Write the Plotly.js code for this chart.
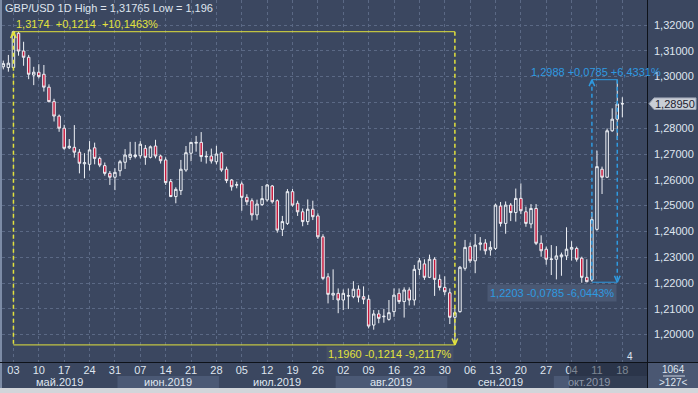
<!DOCTYPE html>
<html><head><meta charset="utf-8">
<script src="https://cdn.plot.ly/plotly-3.0.1.min.js"></script>
<style>html,body{margin:0;padding:0;background:#3b4760;overflow:hidden}#chart{width:698px;height:393px}</style>
</head><body><div id="chart"></div>
<script>
// ---- trading days (categories) ----
const mayDays=[1,2,3,6,7,8,9,10,13,14,15,16,17,20,21,22,23,24,27,28,29,30,31];
const junDays=[3,4,5,6,7,10,11,12,13,14,17,18,19,20,21,24,25,26,27,28];
const julDays=[1,2,3,4,5,8,9,10,11,12,15,16,17,18,19,22,23,24,25,26,29,30,31];
const augDays=[1,2,5,6,7,8,9,12,13,14,15,16,19,20,21,22,23,26,27,28,29,30];
const sepDays=[2,3,4,5,6,9,10,11,12,13,16,17,18,19,20,23,24,25,26,27,30];
const octDays=[1,2,3,4,7,8,9,10,11,14,15,16,17,18];
const monthKeys=['05','06','07','08','09','10'];
const monthLabels=['май.2019','июн.2019','июл.2019','авг.2019','сен.2019','окт.2019'];

// ---- OHLC values (GBP/USD daily) ----
const open=[
1.3038,1.3035,1.3035,1.3168,1.3099,1.3075,1.3006,1.3017,1.3009,1.2959,
1.2903,1.2847,1.2800,1.2724,1.2726,1.2707,1.2662,1.2660,1.2724,1.2683,
1.2655,1.2625,1.2610,1.2635,1.2668,1.2687,1.2690,1.2693,1.2722,1.2687,
1.2731,1.2692,1.2677,1.2593,1.2535,1.2558,1.2638,1.2703,1.2742,1.2745,
1.2689,1.2692,1.2670,1.2705,1.2641,1.2599,1.2579,1.2584,1.2532,1.2519,
1.2464,1.2504,1.2522,1.2576,1.2519,1.2408,1.2431,1.2554,1.2509,1.2476,
1.2438,1.2486,1.2460,1.2379,1.2224,1.2153,1.2160,1.2134,1.2149,1.2147,
1.2176,1.2147,1.2137,1.2037,1.2080,1.2069,1.2059,1.2089,1.2160,1.2128,
1.2173,1.2134,1.2253,1.2274,1.2222,1.2292,1.2214,1.2183,1.2162,1.2067,
1.2089,1.2257,1.2341,1.2286,1.2350,1.2355,1.2328,1.2334,1.2498,1.2431,
1.2502,1.2473,1.2528,1.2476,1.2429,1.2489,1.2354,1.2331,1.2291,1.2292,
1.2302,1.2305,1.2331,1.2334,1.2296,1.2222,1.2212,1.2408,1.2641,1.2610,
1.2790,1.2835,1.2894];
const high=[
1.3062,1.3084,1.31765,1.3174,1.3135,1.3084,1.3038,1.3048,1.3045,1.2970,
1.2914,1.2853,1.2813,1.2758,1.2812,1.2719,1.2703,1.2750,1.2744,1.2690,
1.2667,1.2634,1.2645,1.2677,1.2719,1.2747,1.2747,1.2750,1.2735,1.2733,
1.2755,1.2697,1.2687,1.2603,1.2571,1.2677,1.2731,1.2747,1.2770,1.2785,
1.2711,1.2721,1.2732,1.2709,1.2651,1.2603,1.2593,1.2593,1.2544,1.2528,
1.2523,1.2576,1.2584,1.2580,1.2524,1.2460,1.2564,1.2564,1.2519,1.2489,
1.2524,1.2519,1.2470,1.2389,1.2238,1.2253,1.2179,1.2175,1.2179,1.2207,
1.2191,1.2187,1.2153,1.2095,1.2095,1.2100,1.2134,1.2179,1.2179,1.2183,
1.2183,1.2270,1.2297,1.2292,1.2310,1.2300,1.2233,1.2226,1.2179,1.2105,
1.2266,1.2367,1.2357,1.2390,1.2378,1.2370,1.2362,1.2508,1.2514,1.2516,
1.2510,1.2566,1.2586,1.2496,1.2506,1.2506,1.2385,1.2341,1.2347,1.2343,
1.2318,1.2416,1.2362,1.2341,1.2302,1.2292,1.2476,1.2713,1.2651,1.2799,
1.2877,1.2988,1.2920];
const low=[
1.3028,1.3019,1.3030,1.3081,1.3042,1.2990,1.2967,1.2993,1.2942,1.2900,
1.2826,1.2786,1.2716,1.2719,1.2686,1.2625,1.2606,1.2636,1.2660,1.2649,
1.2616,1.2580,1.2560,1.2614,1.2642,1.2677,1.2683,1.2683,1.2658,1.2683,
1.2683,1.2663,1.2580,1.2533,1.2509,1.2541,1.2631,1.2672,1.2709,1.2670,
1.2663,1.2663,1.2660,1.2631,1.2587,1.2558,1.2567,1.2480,1.2501,1.2442,
1.2445,1.2499,1.2515,1.2508,1.2395,1.2382,1.2425,1.2496,1.2460,1.2420,
1.2425,1.2444,1.2371,1.2211,1.2121,1.2134,1.2083,1.2095,1.2099,1.2141,
1.2125,1.2118,1.2024,1.2019,1.2044,1.2046,1.2054,1.2069,1.2119,1.2066,
1.2113,1.2113,1.2230,1.2212,1.2219,1.2150,1.2171,1.2153,1.2041,1.1960,
1.2085,1.2248,1.2277,1.2238,1.2326,1.2310,1.2306,1.2328,1.2419,1.2391,
1.2440,1.2438,1.2467,1.2418,1.2412,1.2347,1.2302,1.2271,1.2231,1.2214,
1.2228,1.2289,1.2287,1.2283,1.2201,1.2203,1.2205,1.2403,1.2545,1.2607,
1.2786,1.2754,1.2842];
const close=[
1.3050,1.3052,1.3174,1.3099,1.3075,1.3009,1.3017,1.3000,1.2959,1.2903,
1.2847,1.2800,1.2722,1.2730,1.2707,1.2664,1.2666,1.2716,1.2683,1.2657,
1.2625,1.2610,1.2629,1.2670,1.2696,1.2699,1.2696,1.2738,1.2687,1.2728,
1.2692,1.2674,1.2589,1.2535,1.2563,1.2641,1.2705,1.2745,1.2745,1.2690,
1.2691,1.2673,1.2700,1.2638,1.2597,1.2573,1.2581,1.2532,1.2515,1.2464,
1.2506,1.2527,1.2580,1.2515,1.2405,1.2438,1.2554,1.2502,1.2476,1.2438,
1.2486,1.2457,1.2379,1.2218,1.2156,1.2160,1.2134,1.2160,1.2151,1.2176,
1.2145,1.2137,1.2033,1.2080,1.2063,1.2071,1.2085,1.2153,1.2128,1.2173,
1.2134,1.2253,1.2286,1.2222,1.2292,1.2214,1.2183,1.2166,1.2067,1.2085,
1.2261,1.2338,1.2286,1.2347,1.2355,1.2325,1.2338,1.2502,1.2431,1.2502,
1.2473,1.2528,1.2480,1.2431,1.2489,1.2354,1.2325,1.2292,1.2293,1.2305,
1.2309,1.2331,1.2338,1.2292,1.2222,1.2205,1.2446,1.2651,1.2610,1.2790,
1.2835,1.2894,1.2895];

// ---- ticks ----
const weekTicks=['2019-05-03','2019-05-10','2019-05-17','2019-05-24','2019-05-31','2019-06-07','2019-06-14','2019-06-21','2019-06-28','2019-07-05','2019-07-12','2019-07-19','2019-07-26','2019-08-02','2019-08-09','2019-08-16','2019-08-23','2019-08-30','2019-09-06','2019-09-13','2019-09-20','2019-09-27','2019-10-04','2019-10-11','2019-10-18'];
const weekLabels=['03','10','17','24','31','07','14','21','28','05','12','19','26','02','09','16','23','30','06','13','20','27','04','11','18'];
const yTicks=[1.20,1.21,1.22,1.23,1.24,1.25,1.26,1.27,1.28,1.29,1.30,1.31,1.32];
const yTickText=['1,20000','1,21000','1,22000','1,23000','1,24000','1,25000','1,26000','1,27000','1,28000','','1,30000','1,31000','1,32000'];

// ---- measurements / texts ----
const lastPrice=1.2895, lastPriceText='1,28950';
const header='GBP/USD 1D High = 1,31765 Low = 1,196';
const measA={from:'2019-05-03',to:'2019-09-03',top:1.3174,bottom:1.1960,
  topText:'1,3174\u00a0\u00a0+0,1214\u00a0\u00a0+10,1463%',botText:'1,1960 -0,1214 -9,2117%'};
const measB={from:'2019-10-10',to:'2019-10-17',top:1.2988,bottom:1.2203,
  topText:'1,2988 +0,0785 +6,4331%',botText:'1,2203 -0,0785 -6,0443%'};

// ---- build ----
const monthDays={'05':mayDays,'06':junDays,'07':julDays,'08':augDays,'09':sepDays,'10':octDays};
const dates=[];
monthKeys.forEach(m=>monthDays[m].forEach(d=>dates.push('2019-'+m+'-'+String(d).padStart(2,'0'))));
const idx=d=>dates.indexOf(d);

const BG='#3b4760', GRID='#5b6985', TXT='#dfe5ef', YEL='#e2e23c', BLUE='#2f9ae0';
const FONT='Liberation Sans Narrow, Liberation Sans, Arial, sans-serif';
const XR=[-0.256,126.86];
const PW=645, PH=362;
const px=v=>(v-2)/PW;          // page x -> paper x
const py=v=>(PH-v)/PH;         // page y -> paper y

const trace={type:'candlestick',x:dates,open:open,high:high,low:low,close:close,
  increasing:{line:{color:'#eef1f6',width:1},fillcolor:BG},
  decreasing:{line:{color:'#eef1f6',width:1},fillcolor:'#c8193c'},
  whiskerwidth:0,hoverinfo:'skip'};

const shapes=[];
const annotations=[];
// month bands
monthKeys.forEach((m,k)=>{
  const first=dates.findIndex(d=>d.slice(5,7)===m);
  const last=first+monthDays[m].length-1;
  if(k%2===1) shapes.push({type:'rect',xref:'x',yref:'paper',x0:first-0.5,x1:k===5?XR[1]:last+0.5,y0:py(376),y1:py(388),fillcolor:'#4b5975',line:{width:0},layer:'below'});
  annotations.push({xref:'x',yref:'paper',x:(first+last)/2,y:py(382),text:monthLabels[k],showarrow:false,
    font:{family:FONT,size:11,color:k===5?'#8d96a8':TXT},xanchor:'center',yanchor:'middle'});
});
// Oct dim overlay on axis
shapes.push({type:'rect',xref:'x',yref:'paper',x0:111.5,x1:XR[1],y0:py(388),y1:py(363),fillcolor:'rgba(28,35,52,0.5)',line:{width:0},layer:'above'});
// frame pieces
shapes.push({type:'rect',xref:'paper',yref:'paper',x0:px(647.5),x1:px(698),y0:py(388),y1:py(362.5),fillcolor:'#4a5772',line:{width:0}});
shapes.push({type:'rect',xref:'paper',yref:'paper',x0:px(0),x1:px(698),y0:py(393),y1:py(388),fillcolor:'#d2d5da',line:{width:0}});
shapes.push({type:'rect',xref:'paper',yref:'paper',x0:px(0),x1:px(2),y0:py(388),y1:1,fillcolor:'#7d8ca6',line:{width:0}});
shapes.push({type:'line',xref:'paper',yref:'paper',x0:px(0),x1:px(698),y0:py(362.5),y1:py(362.5),line:{color:'#0e1219',width:1}});
shapes.push({type:'line',xref:'paper',yref:'paper',x0:px(647.5),x1:px(647.5),y0:py(388),y1:1,line:{color:'#0e1219',width:1}});
shapes.push({type:'line',xref:'paper',yref:'paper',x0:px(663),x1:px(685),y0:py(376),y1:py(376),line:{color:'#c9d0dc',width:1}});
// price tag
const th=0.00225;
shapes.push({type:'path',xref:'paper',yref:'y',
  path:`M ${px(649)},${lastPrice} L ${px(654)},${lastPrice+th} L ${px(696)},${lastPrice+th} L ${px(696)},${lastPrice-th} L ${px(654)},${lastPrice-th} Z`,
  fillcolor:'#c9ced6',line:{color:'#9aa3b3',width:1}});
annotations.push({xref:'paper',yref:'y',x:px(675),y:lastPrice,text:lastPriceText,showarrow:false,font:{family:FONT,size:11,color:'#1b2130'},xanchor:'center',yanchor:'middle'});

// measurement tools
function measure(M,color,labelOpts){
  const a=idx(M.from), b=idx(M.to);
  const L=(x0,y0,x1,y1,dash,w)=>shapes.push({type:'line',xref:'x',yref:'y',x0,y0,x1,y1,line:{color,width:w||1,dash:dash||'solid'}});
  L(a,M.top,b,M.top); L(a,M.bottom,b,M.bottom);
  L(a,M.top,a,M.bottom,'4px,3px',1.5); L(b,M.top,b,M.bottom,'4px,3px',1.5);
  const ah=0.0025;
  L(a-0.55,M.top-ah,a,M.top,null,1.5); L(a+0.55,M.top-ah,a,M.top,null,1.5);
  L(b-0.55,M.bottom+ah,b,M.bottom,null,1.5); L(b+0.55,M.bottom+ah,b,M.bottom,null,1.5);
  annotations.push(Object.assign({xref:'x',yref:'y',y:M.top,text:M.topText,showarrow:false,font:{family:FONT,size:11,color},yanchor:'bottom'},labelOpts.top(a,b)));
  annotations.push(Object.assign({xref:'x',yref:'y',y:M.bottom,text:M.botText,showarrow:false,font:{family:FONT,size:11,color},yanchor:'top'},labelOpts.bot(a,b)));
}
measure(measA,YEL,{top:(a,b)=>({x:a,xanchor:'left',xshift:1,yshift:0}),
                    bot:(a,b)=>({x:b,xanchor:'right',xshift:-1,yshift:-1,bgcolor:'#454f66'})});
measure(measB,BLUE,{top:(a,b)=>({x:a,xanchor:'left',xshift:-63,yshift:0}),
                     bot:(a,b)=>({x:b,xanchor:'right',xshift:0,yshift:-2,bgcolor:'#4a5873',borderpad:2})});

// header and misc texts
annotations.push({xref:'paper',yref:'paper',x:px(3),y:py(8),text:header,showarrow:false,font:{family:FONT,size:11,color:TXT},xanchor:'left',yanchor:'middle'});
annotations.push({xref:'paper',yref:'paper',x:px(630),y:py(356),text:'4',showarrow:false,font:{family:FONT,size:10,color:TXT},xanchor:'center',yanchor:'middle'});
annotations.push({xref:'paper',yref:'paper',x:px(673),y:py(369.5),text:'1064',showarrow:false,font:{family:FONT,size:10,color:TXT},xanchor:'center',yanchor:'middle'});
annotations.push({xref:'paper',yref:'paper',x:px(673),y:py(382),text:'>127<',showarrow:false,font:{family:FONT,size:10,color:TXT},xanchor:'center',yanchor:'middle'});

const layout={width:698,height:393,margin:{l:2,r:51,t:0,b:31,pad:0},
  paper_bgcolor:BG,plot_bgcolor:BG,showlegend:false,boxgap:0.3,
  xaxis:{type:'category',range:XR,autorange:false,tickmode:'array',tickvals:weekTicks,ticktext:weekLabels,
    showgrid:true,gridcolor:GRID,griddash:'dot',gridwidth:1,zeroline:false,showline:false,ticks:'',
    tickfont:{family:FONT,size:11,color:TXT},ticklabelstandoff:0,rangeslider:{visible:false},fixedrange:true},
  yaxis:{side:'right',range:[1.18938,1.32969],autorange:false,tickmode:'array',tickvals:yTicks,ticktext:yTickText,
    showgrid:true,gridcolor:GRID,griddash:'dot',gridwidth:1,zeroline:false,showline:false,ticks:'',
    tickfont:{family:FONT,size:11,color:TXT},ticklabelstandoff:6,fixedrange:true},
  shapes:shapes,annotations:annotations};
Plotly.newPlot('chart',[trace],layout,{displayModeBar:false,staticPlot:true});
</script></body></html>
